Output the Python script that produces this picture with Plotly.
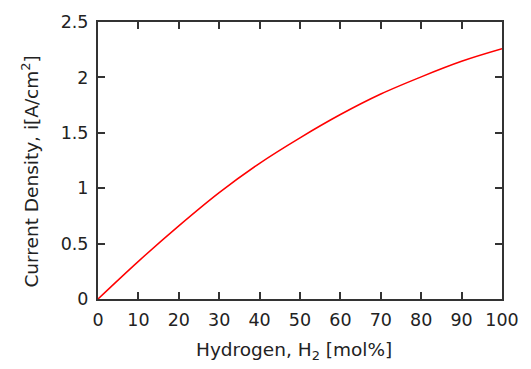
import plotly.graph_objects as go

# Hydrogen content [mol%] and resulting current density [A/cm^2]
hydrogen = [0, 10, 20, 30, 40, 50, 60, 70, 80, 90, 100]
current_density = [0, 0.34, 0.66, 0.96, 1.225, 1.455, 1.665, 1.85, 2.005, 2.145, 2.258]

x_ticks = [0, 10, 20, 30, 40, 50, 60, 70, 80, 90, 100]
y_ticks = [0, 0.5, 1, 1.5, 2, 2.5]
y_tick_text = ["0", "0.5", "1", "1.5", "2", "2.5"]

font_family = "'DejaVu Sans', sans-serif"
text_color = "#222222"

fig = go.Figure()
fig.add_trace(go.Scatter(
    x=hydrogen, y=current_density, mode="lines",
    line=dict(color="#ff0000", width=1.5, shape="spline", smoothing=1.0),
    showlegend=False,
))

axis_common = dict(
    showgrid=False, zeroline=False, showline=True, linecolor="#333333", linewidth=2,
    mirror="allticks", ticks="inside", ticklen=7, tickwidth=1.5, tickcolor="#333333",
    tickfont=dict(family=font_family, size=17.5, color=text_color),
)

fig.update_xaxes(range=[0, 100], tickvals=x_ticks, ticklabelstandoff=4, **axis_common)
fig.update_yaxes(range=[0, 2.5], tickvals=y_ticks, ticktext=y_tick_text,
                 ticklabelstandoff=4, **axis_common)

# Axis titles placed as annotations
fig.add_annotation(
    text="Hydrogen, H<sub>2</sub> [mol%]", xref="paper", yref="paper",
    x=0.484, y=0, yshift=-52, xanchor="center", yanchor="middle", showarrow=False,
    font=dict(family=font_family, size=18.5, color=text_color),
)
fig.add_annotation(
    text="Current Density, i[A/cm<sup>2</sup>]", xref="paper", yref="paper",
    x=0, xshift=-68, y=0.46, xanchor="center", yanchor="middle", textangle=-90,
    showarrow=False, font=dict(family=font_family, size=18.5, color=text_color),
)

fig.update_layout(
    width=531, height=369,
    margin=dict(l=98, r=29, t=14, b=70),
    paper_bgcolor="white", plot_bgcolor="white",
)

fig.write_html("out.html")
